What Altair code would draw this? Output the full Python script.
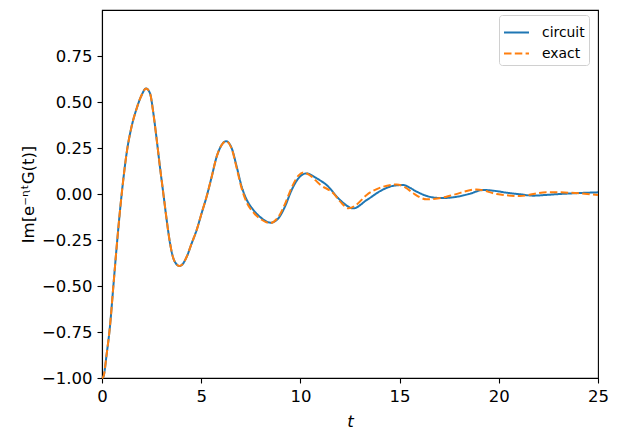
import altair as alt
import pandas as pd

# circuit (blue, solid)
t_circuit = [0.0, 0.07, 0.24, 0.40, 0.57, 0.74, 0.91, 1.07, 1.24, 1.49, 1.75, 2.0, 2.22, 2.42,
             2.59, 2.76, 2.92, 3.09, 3.26, 3.43, 3.63, 3.9, 4.02, 4.27, 4.52, 4.77, 5.02,
             5.27, 5.53, 5.78, 6.03, 6.25, 6.54, 6.79, 7.04, 7.29, 7.63, 8.05, 8.5, 8.89,
             9.22, 9.56, 9.9, 10.3, 10.82, 11.32, 12.0, 12.67, 13.34, 14.18, 14.7, 15.19,
             15.5, 15.86, 16.3, 16.7, 17.2, 17.88, 18.5, 19.22, 19.8, 20.4, 21.1, 21.74,
             22.4, 23.08, 24.0, 25.0]
y_circuit = [-1.0, -0.993, -0.866, -0.721, -0.504, -0.286, -0.087, 0.076, 0.221, 0.366, 0.466,
             0.538, 0.574, 0.547, 0.438, 0.293, 0.148, 0.004, -0.141, -0.268, -0.359, -0.391,
             -0.386, -0.341, -0.268, -0.196, -0.105, -0.015, 0.094, 0.203, 0.266, 0.287,
             0.248, 0.148, 0.04, -0.03, -0.087, -0.132, -0.156, -0.132, -0.069, 0.022, 0.085,
             0.112, 0.085, 0.049, -0.033, -0.078, -0.033, 0.025, 0.045, 0.049, 0.035, 0.013,
             -0.008, -0.019, -0.022, -0.015, 0.0, 0.022, 0.017, 0.007, -0.002, -0.009, -0.005,
             0.0, 0.005, 0.009]

# exact (orange, dashed)
t_exact = [0.0, 0.07, 0.24, 0.40, 0.57, 0.74, 0.91, 1.07, 1.24, 1.49, 1.75, 2.0, 2.22, 2.42,
           2.59, 2.76, 2.92, 3.09, 3.26, 3.43, 3.63, 3.9, 4.02, 4.27, 4.52, 4.77, 5.02,
           5.27, 5.53, 5.78, 6.03, 6.25, 6.54, 6.79, 7.04, 7.29, 7.63, 8.05, 8.45, 8.89,
           9.22, 9.56, 9.9, 10.15, 10.5, 11.0, 11.66, 12.0, 12.42, 12.8, 13.34, 14.18,
           14.85, 15.3, 15.69, 16.36, 16.9, 17.7, 18.88, 19.9, 21.07, 22.41, 23.58, 25.0]
y_exact = [-1.0, -0.993, -0.866, -0.721, -0.504, -0.286, -0.087, 0.076, 0.221, 0.366, 0.466,
           0.538, 0.574, 0.547, 0.438, 0.293, 0.148, 0.004, -0.141, -0.268, -0.359, -0.391,
           -0.386, -0.341, -0.268, -0.196, -0.105, -0.015, 0.094, 0.203, 0.266, 0.287,
           0.245, 0.14, 0.03, -0.045, -0.1, -0.14, -0.158, -0.125, -0.055, 0.035, 0.1,
           0.117, 0.1, 0.05, 0.004, -0.04, -0.078, -0.06, -0.005, 0.04, 0.052, 0.035, 0.004,
           -0.029, -0.025, -0.005, 0.025, 0.0, -0.011, 0.01, 0.007, -0.006]

series_names = ["circuit", "exact"]
series_colors = ["#1f77b4", "#ff7f0e"]
x_ticks = [0, 5, 10, 15, 20, 25]
y_ticks = [-1.0, -0.75, -0.5, -0.25, 0.0, 0.25, 0.5, 0.75]

df = pd.concat([
    pd.DataFrame({"t": t_circuit, "v": y_circuit, "series": "circuit", "order": 0}),
    pd.DataFrame({"t": t_exact, "v": y_exact, "series": "exact", "order": 1}),
])

FONT = "DejaVu Sans"

legend_kw = dict(title=None, orient="none", legendX=397, legendY=5,
                 symbolType="stroke", symbolSize=625, symbolStrokeWidth=2,
                 labelFontSize=13.9, labelFont=FONT, labelColor="black",
                 strokeColor="#d0d0d0", fillColor="white",
                 padding=4, cornerRadius=3, rowPadding=-5, labelOffset=12)

chart = alt.Chart(df).mark_line(interpolate="monotone", strokeWidth=2).encode(
    x=alt.X("t:Q", scale=alt.Scale(domain=[0, 25], nice=False, zero=False),
            axis=alt.Axis(values=x_ticks, title="t", titleFontStyle="italic", format="d",
                          titlePadding=9, labelFlush=False)),
    y=alt.Y("v:Q", scale=alt.Scale(domain=[-1, 1], nice=False, zero=False),
            axis=alt.Axis(values=y_ticks, format=".2f", title="Im[e⁻ᶯᵗG(t)]",
                          titlePadding=5, labelFlush=False)),
    color=alt.Color("series:N", scale=alt.Scale(domain=series_names, range=series_colors),
                    legend=alt.Legend(**legend_kw)),
    strokeDash=alt.StrokeDash("series:N",
                              scale=alt.Scale(domain=series_names, range=[[1, 0], [7.5, 3.3]]),
                              legend=alt.Legend(**legend_kw)),
    order="order:Q",
).properties(
    width=496, height=368,
    autosize=alt.AutoSizeParams(type="none"),
    padding={"left": 94, "top": 2, "right": 13, "bottom": 54},
    background="white",
).configure_view(
    stroke="black", strokeWidth=1.1
).configure_axis(
    grid=False, domainColor="black", domainWidth=1.1, tickColor="black", tickWidth=1.1,
    tickSize=5, labelPadding=5, labelFont=FONT, labelFontSize=16.5, labelColor="black",
    titleFont=FONT, titleFontSize=16.5, titleFontWeight="normal", titleColor="black",
)

chart.save("out.html", embed_options={"renderer": "svg", "actions": False})
